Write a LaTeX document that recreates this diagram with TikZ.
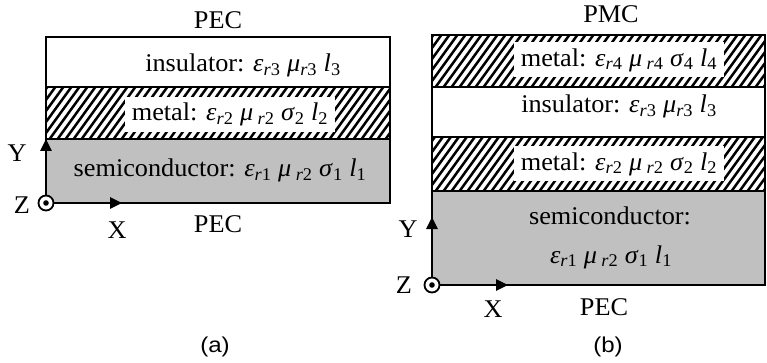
\documentclass[tikz,border=0pt]{standalone}
\usepackage{fontspec}
\setmainfont{Liberation Serif}
\newfontfamily\capfont{Liberation Sans}
\usetikzlibrary{arrows.meta,positioning}
\definecolor{semigray}{RGB}{192,192,192}
\tikzset{
	border/.style={line width=2.6pt},
	hatch/.style={line width=2.5pt},
	txt/.style={font=\fontsize{25.5}{30}\selectfont, inner sep=0pt, anchor=base, transform shape, xscale=1.03},
	tag/.style={font=\capfont\fontsize{21.5}{26}\selectfont, inner sep=0pt, anchor=base, transform shape, xscale=1.12},
	metalbox/.style={txt, anchor=center, fill=white, minimum height=35pt, inner xsep=6.5pt},
	axis/.style={line width=2.6pt, -{Triangle[length=12pt,width=11pt]}},
	origin/.style={circle, draw, fill=white, line width=1.8pt, minimum size=15pt, inner sep=0pt}
}
% parameter with subscript
\newcommand\psub[2]{\textit{#1}\textsubscript{#2}}
% hatched band: x0 y0 x1 y1
\newcommand\hatchrect[4]{%
	\begin{scope}
		\clip (#1,#2) rectangle (#3,#4);
		\foreach \i in {-8,...,45} \draw[hatch] ({#1+8*\i},#4+5) -- ++(45,-62);
	\end{scope}}
\begin{document}
\begin{tikzpicture}[x=1pt,y=-1pt]
	\useasboundingbox (0,0) rectangle (767,363);

	%% (a) PEC -- PEC
	\fill[semigray] (46,139) rectangle (390,203);
	\hatchrect{46}{87}{390}{139}
	\draw[border] (46,37) rectangle (390,203);
	\draw[border] (46,87) -- (390,87) (46,139) -- (390,139);

	\coordinate (ya) at (46,139);
	\coordinate (xa) at (122,203);
	\draw[axis] (46,203) -- (ya);
	\draw[axis] (46,203) -- (xa);
	\node[origin] (oa) at (46,203) {};
	\fill (oa) circle (2.8pt);

	\node[txt] (pectopa) at (218,29) {PEC};
	\node[txt] (insa) at (243,72) {insulator: \psub{ε}{\textit{r}3} \psub{μ}{\textit{r}3} \psub{l}{3}};
	\node[metalbox] (meta) at (230,114.5) {metal: \psub{ε}{\textit{r}2} \textit{μ}\,\textsubscript{\textit{r}2} \psub{σ}{2} \psub{l}{2}};
	\node[txt] (semia) at (220,177) {semiconductor: \psub{ε}{\textit{r}1} \textit{μ}\,\textsubscript{\textit{r}2} \psub{σ}{1} \psub{l}{1}};
	\node[txt] (pecbota) at (218,233) {PEC};
	\node[txt] (ylaba) at (17,162) {Y};
	\node[txt] (zlaba) at (22,213) {Z};
	\node[txt] (xlaba) at (117,238) {X};
	\node[tag] (capa) at (215,352) {(a)};

	%% (b) PMC -- PEC
	\fill[semigray] (432,191) rectangle (765,285);
	\hatchrect{432}{35}{765}{87}
	\hatchrect{432}{137}{765}{191}
	\draw[border] (432,35) rectangle (765,285);
	\draw[border] (432,87) -- (765,87) (432,137) -- (765,137) (432,191) -- (765,191);

	\coordinate (yb) at (432,217);
	\coordinate (xb) at (508,285);
	\draw[axis] (432,285) -- (yb);
	\draw[axis] (432,285) -- (xb);
	\node[origin] (ob) at (432,285) {};
	\fill (ob) circle (2.8pt);

	\node[txt] (pmcb) at (611,23) {PMC};
	\node[metalbox] (metfb) at (619,60) {metal: \psub{ε}{\textit{r}4} \textit{μ}\,\textsubscript{\textit{r}4} \psub{σ}{4} \psub{l}{4}};
	\node[txt] (insb) at (619,113) {insulator: \psub{ε}{\textit{r}3} \psub{μ}{\textit{r}3} \psub{l}{3}};
	\node[metalbox] (metb) at (619,164) {metal: \psub{ε}{\textit{r}2} \textit{μ}\,\textsubscript{\textit{r}2} \psub{σ}{2} \psub{l}{2}};
	\node[txt] (semib) at (610,225) {semiconductor:};
	\node[txt] (semivb) at (611,263) {\psub{ε}{\textit{r}1} \textit{μ}\,\textsubscript{\textit{r}2} \psub{σ}{1} \psub{l}{1}};
	\node[txt] (pecb) at (604,315) {PEC};
	\node[txt] (ylabb) at (408,237) {Y};
	\node[txt] (zlabb) at (404,293) {Z};
	\node[txt] (xlabb) at (493,317) {X};
	\node[tag] (capb) at (608,352) {(b)};
\end{tikzpicture}
\end{document}
